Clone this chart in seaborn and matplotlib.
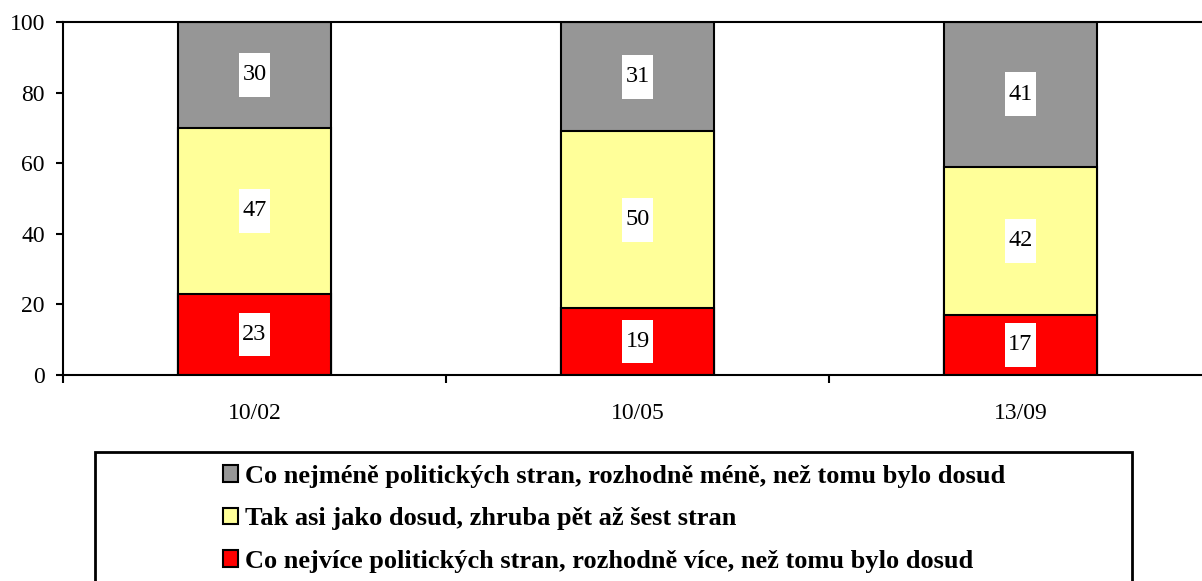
import numpy as np
import pandas as pd
import matplotlib
matplotlib.use("Agg")
import matplotlib.pyplot as plt
from matplotlib.patches import Patch, Rectangle
from matplotlib.path import Path
import seaborn as sns

# survey waves and shares (%)
waves = ["10/02", "10/05", "13/09"]
more_parties = [23, 19, 17]   # red
as_before = [47, 50, 42]      # yellow
fewer_parties = [30, 31, 41]  # gray

labels = [
    "Co nejméně politických stran, rozhodně méně, než tomu bylo dosud",
    "Tak asi jako dosud, zhruba pět až šest stran",
    "Co nejvíce politických stran, rozhodně více, než tomu bylo dosud",
]
colors = ["#969696", "#FFFF99", "#FF0000"]

sns.set_style("white")
plt.rcParams["font.family"] = ["Liberation Serif", "DejaVu Serif"]
plt.rcParams["text.color"] = "black"
plt.rcParams["xtick.color"] = "black"
plt.rcParams["ytick.color"] = "black"

df = pd.DataFrame({"wave": waves, "red": more_parties,
                   "yellow": as_before, "gray": fewer_parties})
df["cum_red"] = df["red"]
df["cum_yellow"] = df["red"] + df["yellow"]
df["cum_gray"] = df["cum_yellow"] + df["gray"]


def tall_box(x0, y0, width, height, mutation_size):
    # label box: narrow side padding, fixed tall height
    px = 0.15 * mutation_size
    h = 1.8 * mutation_size
    cy = y0 + height / 2
    x1, x2 = x0 - px, x0 + width + px
    y1, y2 = cy - h / 2, cy + h / 2
    return Path([(x1, y1), (x2, y1), (x2, y2), (x1, y2), (x1, y1)], closed=True)


W, H = 1202, 581
fig = plt.figure(figsize=(W / 100, H / 100), dpi=100)
ax = fig.add_axes([63 / W, (H - 375) / H, (1212 - 63) / W, 353 / H])

# stacked bars drawn as overlapping cumulative totals
for col, c in [("cum_gray", colors[0]), ("cum_yellow", colors[1]), ("cum_red", colors[2])]:
    sns.barplot(data=df, x="wave", y=col, color=c, width=0.4, saturation=1,
                edgecolor="black", linewidth=1.5, ax=ax)

# value labels in white boxes
for i in range(len(waves)):
    segs = [(0, more_parties[i]),
            (more_parties[i], as_before[i]),
            (more_parties[i] + as_before[i], fewer_parties[i])]
    for base, val in segs:
        ax.text(i, base + val / 2, str(val), ha="center", va="center", fontsize=17.5,
                bbox=dict(boxstyle=tall_box, fc="white", ec="none"))

ax.set_xlim(-0.5, 2.5)
ax.set_ylim(0, 100)
ax.set_yticks(range(0, 101, 20))
ax.set_xlabel("")
ax.set_ylabel("")

# tick marks between categories, labels at centers
ax.set_xticks([-0.5, 0.5, 1.5, 2.5])
ax.set_xticklabels([])
ax.set_xticks(range(len(waves)), minor=True)
ax.set_xticklabels(waves, minor=True)
ax.tick_params(axis="x", which="major", direction="out", length=6, width=1.5,
               color="black", bottom=True)
ax.tick_params(axis="x", which="minor", length=0, pad=20, labelsize=17)
ax.tick_params(axis="y", direction="out", length=5, width=1.5, color="black",
               left=True, pad=8, labelsize=17)

for s in ["top", "left", "bottom", "right"]:
    ax.spines[s].set_visible(True)
    ax.spines[s].set_color("black")
    ax.spines[s].set_linewidth(1.5)

# legend frame, running off the bottom of the picture
fig.patches.append(Rectangle((95 / W, -0.1), (1132 - 95) / W, 0.1 + (H - 452) / H,
                             transform=fig.transFigure, fill=False,
                             edgecolor="black", linewidth=2))
handles = [Patch(facecolor=c, edgecolor="black", linewidth=1.5) for c in colors]
fig.legend(handles, labels, loc="upper center", bbox_to_anchor=(614 / W, (H - 465) / H),
           frameon=False, borderpad=0, borderaxespad=0, handlelength=0.6,
           handleheight=0.6, handletextpad=0.25, labelspacing=0.73,
           prop={"size": 19, "weight": "bold", "family": ["Liberation Serif", "DejaVu Serif"]})

fig.savefig("out.png", dpi=100)
